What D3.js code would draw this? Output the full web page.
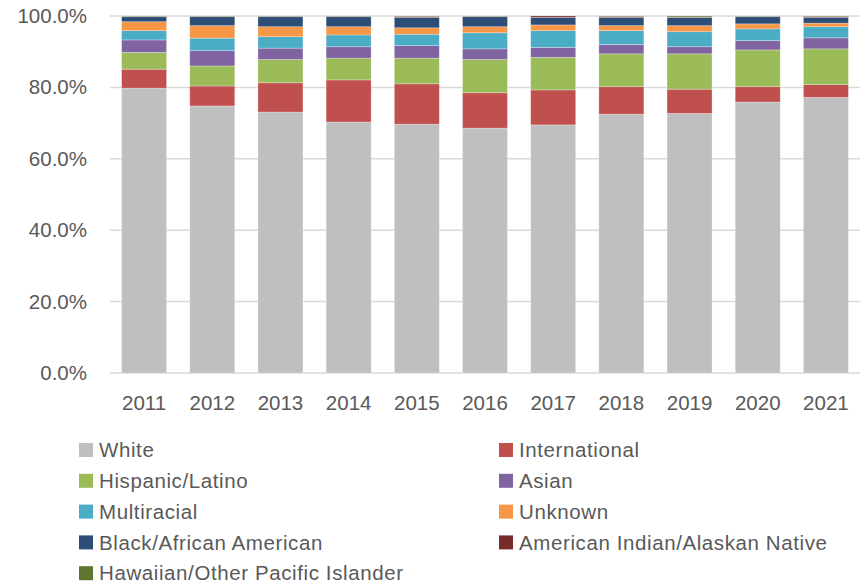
<!DOCTYPE html>
<html>
<head>
<meta charset="utf-8">
<script src="https://cdn.jsdelivr.net/npm/d3@7"></script>
<style>
  body { margin: 0; background: #fff; }
  svg text { font-family: "Liberation Sans", Arial, sans-serif; fill: #595959; }
</style>
</head>
<body>
<div id="chart"></div>
<script>
const years = ["2011", "2012", "2013", "2014", "2015", "2016", "2017", "2018", "2019", "2020", "2021"];

const groups = [
  "White", "International", "Hispanic/Latino", "Asian", "Multiracial",
  "Unknown", "Black/African American", "American Indian/Alaskan Native",
  "Hawaiian/Other Pacific Islander"
];

// percent of students
const white         = [79.8, 74.8, 73.1, 70.3, 69.7, 68.6, 69.5, 72.5, 72.7, 75.9, 77.2];
const international = [5.3, 5.6, 8.2, 11.8, 11.3, 9.9, 9.8, 7.7, 6.8, 4.3, 3.6];
const hispanic      = [4.7, 5.6, 6.5, 6.1, 7.2, 9.3, 9.1, 9.2, 9.9, 10.3, 10.0];
const asian         = [3.5, 4.3, 3.2, 3.2, 3.5, 3.0, 2.8, 2.6, 2.0, 2.6, 3.1];
const multiracial   = [2.6, 3.5, 3.2, 3.3, 3.2, 4.5, 4.7, 3.9, 4.2, 3.3, 3.1];
const unknown       = [2.5, 3.5, 2.8, 2.3, 1.8, 1.7, 1.6, 1.4, 1.7, 1.4, 1.0];
const black         = [1.4, 2.5, 2.8, 2.8, 2.9, 2.8, 2.1, 2.3, 2.3, 2.0, 1.6];
const amIndian      = [0.1, 0.1, 0.1, 0.1, 0.3, 0.1, 0.4, 0.3, 0.1, 0.1, 0.3];
const hawaiian      = [0.1, 0.1, 0.1, 0.1, 0.1, 0.1, 0.0, 0.1, 0.3, 0.1, 0.1];

const yTicks = [0, 20, 40, 60, 80, 100];

const colors = ["#bfbfbf", "#c0504d", "#9bbb59", "#8064a2", "#4bacc6", "#f79646", "#2c4d75", "#772c2a", "#5f7530"];

const series = [white, international, hispanic, asian, multiracial, unknown, black, amIndian, hawaiian];
const rows = years.map((y, i) => {
  const row = { year: y };
  groups.forEach((g, k) => (row[g] = series[k][i]));
  return row;
});

const size = { width: 863, height: 586 };
const margin = { top: 16, right: 3, left: 110 };
const plotBottom = 373;
const fontSize = 20.5;

const svg = d3.select("#chart")
  .append("svg")
  .attr("width", size.width)
  .attr("height", size.height);

const xScale = d3.scaleBand()
  .domain(years)
  .range([margin.left, size.width - margin.right])
  .paddingInner(0.34)
  .paddingOuter(0.17);

const yScale = d3.scaleLinear().domain([0, 100]).range([plotBottom, margin.top]);

// gridlines
svg.append("g")
  .selectAll("line")
  .data(yTicks)
  .join("line")
  .attr("x1", margin.left)
  .attr("x2", size.width - margin.right)
  .attr("y1", (d) => yScale(d))
  .attr("y2", (d) => yScale(d))
  .attr("stroke", "#d9d9d9")
  .attr("stroke-width", 1.5);

// y axis labels
const yAxis = d3.axisLeft(yScale)
  .tickValues(yTicks)
  .tickSize(0)
  .tickPadding(0)
  .tickFormat((d) => d3.format(".1f")(d) + "%");

svg.append("g")
  .attr("transform", `translate(87,0)`)
  .call(yAxis)
  .call((g) => g.select(".domain").remove())
  .call((g) => g.selectAll("text").attr("font-size", fontSize).attr("font-family", null).attr("fill", "#595959"));

// bars
const stack = d3.stack().keys(groups)(rows);

svg.append("g")
  .selectAll("g")
  .data(stack)
  .join("g")
  .attr("fill", (d, i) => colors[i])
  .selectAll("rect")
  .data((d) => d)
  .join("rect")
  .attr("x", (d) => xScale(d.data.year))
  .attr("width", xScale.bandwidth())
  .attr("y", (d) => yScale(d[1]))
  .attr("height", (d) => yScale(d[0]) - yScale(d[1]))
  .attr("stroke", "#ffffff")
  .attr("stroke-opacity", 0.35)
  .attr("stroke-width", 0.8);

// x axis labels
const xAxis = d3.axisBottom(xScale).tickSize(0).tickPadding(0);

svg.append("g")
  .attr("transform", `translate(0,395)`)
  .call(xAxis)
  .call((g) => g.select(".domain").remove())
  .call((g) => g.selectAll("text").attr("font-size", fontSize).attr("font-family", null).attr("fill", "#595959"));

// legend
const legend = svg.append("g");
const legendItems = legend
  .selectAll("g")
  .data(groups)
  .join("g")
  .attr("transform", (d, i) => `translate(${i % 2 ? 499 : 79},${450 + Math.floor(i / 2) * 30.8})`);

legendItems.append("rect")
  .attr("x", 0)
  .attr("y", -7)
  .attr("width", 14)
  .attr("height", 14)
  .attr("fill", (d, i) => colors[i]);

legendItems.append("text")
  .attr("x", 20)
  .attr("dy", "0.35em")
  .attr("font-size", fontSize)
  .attr("letter-spacing", 0.6)
  .text((d) => d);
</script>
</body>
</html>
